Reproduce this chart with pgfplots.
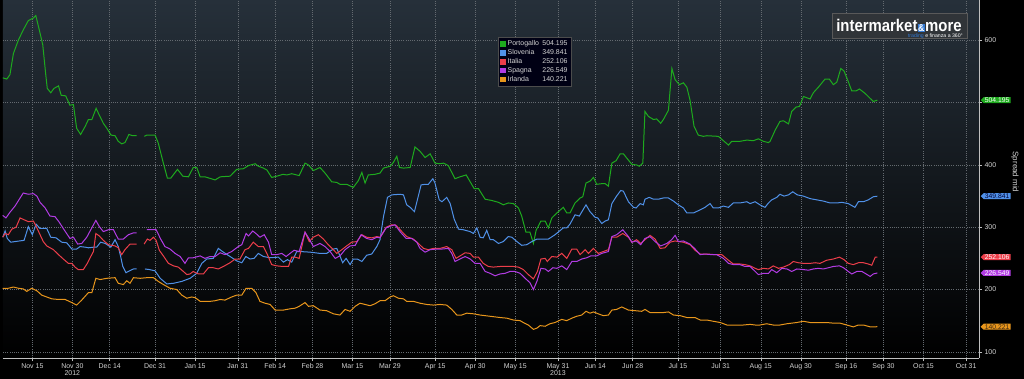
\documentclass[border=0pt]{standalone}
\usepackage{fontspec}
\setmainfont{Liberation Sans}
\usepackage{pgfplots}
\pgfplotsset{compat=1.18}
\usetikzlibrary{shapes.symbols}
\definecolor{pgreen}{RGB}{30,170,30}
\definecolor{pblue}{RGB}{80,145,232}
\definecolor{pred}{RGB}{236,62,74}
\definecolor{ppurple}{RGB}{178,60,228}
\definecolor{porange}{RGB}{232,150,28}
\definecolor{bgtop}{RGB}{38,48,58}
\definecolor{gridc}{RGB}{100,106,112}
\definecolor{txt}{RGB}{210,210,210}
\definecolor{logobg}{RGB}{48,52,56}
\definecolor{logoblue}{RGB}{50,120,210}
\tikzset{tagstyle/.style={shape=signal, signal to=west, signal from=nowhere, anchor=west,
   font=\fontsize{6.8}{7}\selectfont, inner xsep=1.2bp, inner ysep=0.6bp, xshift=1bp}}
\begin{document}
\begin{tikzpicture}
\useasboundingbox[fill=black] (0,0) rectangle (1024bp,379bp);
\begin{axis}[
  at={(3bp,21bp)}, anchor=south west,
  scale only axis, width=976bp, height=358bp,
  xmin=3, xmax=368.8, ymin=90, ymax=665,
  clip=false,
  unbounded coords=jump,
  axis background/.style={top color=bgtop, bottom color=black},
  axis x line=bottom, axis y line=right,
  axis line style={-, draw=white!75!black, line width=0.6bp},
  tick align=outside,
  major tick length=3bp, minor tick length=2bp,
  tick style={white!75!black, line width=0.5bp},
  xtick={14,29,43,60,75,91,105,119,134,148,165,180,195,211,225,239,256,272,287,302,319,333,348,364},
  xticklabels={Nov 15,Nov 30\\2012,Dec 14,Dec 31,Jan 15,Jan 31,Feb 14,Feb 28,Mar 15,Mar 29,Apr 15,Apr 30,May 15,May 31\\2013,Jun 14,Jun 28,Jul 15,Jul 31,Aug 15,Aug 30,Sep 16,Sep 30,Oct 15,Oct 31},
  minor x tick num=1,
  ytick={100,200,300,400,500,600},
  yticklabels={100,200,300,400,,600},
  /pgf/number format/assume math mode=true,
  ticklabel style={font=\fontsize{7}{7.5}\selectfont, text=txt},
  xticklabel style={align=center, anchor=north, yshift=1bp},
  yticklabel style={anchor=west, xshift=-1bp},
  grid=major,
  major grid style={dash pattern=on 0.6bp off 1.6bp, gridc, line width=0.5bp},
  legend style={at={(0.507,0.8966)}, anchor=north west, fill=black!92!blue, draw=white!30!black,
    font=\fontsize{7}{8}\selectfont, text=txt, inner xsep=2bp, inner ysep=1.5bp, row sep=-1.6bp},
  legend cell align=left,
  legend image code/.code={\path[#1, fill, draw=none] (0bp,-2.8bp) rectangle (5.6bp,2.8bp);},
  every axis plot/.append style={line width=1bp, mark=none},
]
\addplot[color=pgreen] coordinates {(2.9,540) (4.4,538) (5.6,545) (6.9,579) (8.8,601) (10.6,617) (12.5,632) (14.4,636) (15.3,640) (16.6,617) (17.9,593) (19.1,542) (19.6,523) (20.9,516) (22.1,523) (23.8,527) (24.8,512) (26.5,511) (28.1,496) (29.4,497) (30.6,459) (32.1,449) (33.8,462) (35.0,473) (36.3,473) (37.9,491) (39.1,480) (40.6,467) (41.9,459) (43.5,448) (45.0,447) (46.2,438) (47.5,434) (48.7,436) (50.2,449) (51.6,447) (53.1,447) (54.5,nan) (56.0,446) (56.9,448) (60.0,448) (61.2,435) (63.1,403) (64.6,379) (65.9,379) (68.4,393) (70.4,382) (72.5,381) (74.3,396) (75.6,396) (76.9,381) (78.7,381) (82.5,376) (84.4,381) (88.1,382) (90.6,393) (93.1,394) (95.0,399) (97.5,402) (98.7,398) (100.6,395) (101.9,392) (103.7,380) (105.6,382) (107.9,385) (109.4,384) (111.2,386) (114.0,383) (116.2,403) (117.5,400) (119.3,391) (121.8,396) (123.7,387) (126.2,373) (128.1,372) (129.3,369) (131.8,369) (134.3,364) (136.2,375) (137.5,388) (138.7,371) (139.9,384) (142.4,385) (144.3,387) (145.6,395) (148.1,398) (149.3,404) (150.6,414) (151.6,396) (153.1,395) (155.6,396) (157.4,429) (159.3,422) (161.2,412) (163.1,418) (164.9,403) (166.8,402) (168.1,403) (169.9,399) (172.4,378) (174.3,381) (176.6,384) (178.1,373) (179.6,362) (181.2,362) (183.7,345) (186.2,343) (188.7,340) (190.5,336) (192.4,339) (194.3,338) (196.2,331) (197.4,318) (199.0,292) (200.5,292) (201.8,274) (202.8,295) (204.6,310) (206.2,310) (207.4,299) (208.7,315) (210.6,323) (213.0,332) (214.3,323) (215.5,323) (217.4,339) (219.3,347) (220.3,349) (221.5,371) (223.0,374) (224.3,380) (225.5,369) (227.4,370) (228.7,370) (229.9,366) (231.2,403) (232.8,407) (234.3,418) (235.5,418) (236.8,411) (238.7,401) (240.5,400) (241.5,398) (242.8,403) (243.6,486) (244.9,478) (246.8,473) (248.0,474) (249.5,467) (250.5,473) (252.4,488) (253.7,555) (254.9,537) (256.5,529) (258.0,532) (259.3,525) (260.5,504) (262.0,462) (263.6,448) (265.5,446) (266.8,447) (271.1,446) (274.9,432) (276.1,438) (279.2,438) (281.8,440) (284.2,439) (286.1,442) (288.0,438) (289.9,436) (290.5,438) (292.4,456) (294.2,470) (295.5,471) (297.4,466) (298.6,486) (300.2,493) (301.5,494) (303.0,510) (305.5,506) (306.7,516) (308.6,525) (311.1,538) (312.7,538) (314.2,529) (315.5,533) (317.0,555) (318.2,551) (319.8,534) (321.1,519) (322.7,519) (324.0,522) (326.1,515) (328.0,507) (329.2,502) (330.7,504.195)};
\addlegendentry{\makebox[33bp][l]{Portogallo}\makebox[27bp][r]{504.195}}
\addplot[color=pblue] coordinates {(2.9,284) (3.8,294) (4.6,282) (5.9,276) (7.5,277) (10.9,279) (12.5,301) (14.0,288) (15.4,305) (16.9,298) (19.4,298) (20.9,284) (22.9,283) (25.0,276) (26.9,275) (28.8,265) (30.6,265) (31.9,269) (33.8,268) (35.0,267) (36.9,268) (38.1,268) (39.6,276) (41.3,274) (43.4,268) (45.0,280) (46.2,269) (47.1,253) (47.9,237) (49.1,227) (50.4,230) (51.9,233) (53.1,233) (54.6,nan) (56.2,233) (57.9,232) (60.0,230) (61.9,218) (64.4,209) (66.9,210) (70.0,213) (73.1,218) (75.6,226) (77.5,242) (79.4,249) (81.8,250) (83.7,266) (85.6,260) (88.1,253) (90.6,246) (92.5,243) (94.0,253) (95.6,249) (97.1,250) (98.7,258) (100.6,253) (103.1,251) (106.2,252) (108.1,244) (109.6,248) (111.2,244) (113.1,261) (114.3,261) (118.1,260) (121.8,258) (124.3,258) (126.8,265) (128.1,266) (129.1,256) (130.3,243) (131.6,250) (133.1,240) (134.3,249) (135.8,249) (137.5,245) (139.3,255) (141.2,257) (143.1,269) (144.3,280) (145.6,317) (147.1,348) (148.7,352) (151.8,353) (153.1,352) (154.3,336) (155.6,332) (157.2,325) (158.3,344) (159.7,368) (161.2,369) (162.4,369) (164.1,378) (164.9,371) (166.5,344) (167.5,341) (168.3,344) (169.3,348) (170.6,338) (172.1,313) (173.7,297) (175.5,296) (178.1,293) (179.3,290) (180.6,299) (181.8,284) (183.0,283) (184.3,295) (185.6,280) (186.8,280) (188.7,274) (190.5,277) (192.4,285) (193.7,284) (195.6,277) (197.4,271) (199.3,272) (201.2,277) (203.1,281) (204.9,281) (207.4,281) (209.9,288) (213.0,299) (214.3,299) (215.5,305) (217.4,320) (219.0,318) (221.5,336) (223.0,325) (224.9,316) (225.9,315) (227.4,306) (228.7,310) (229.9,312) (231.2,338) (232.8,349) (234.5,359) (235.5,358) (237.4,341) (239.3,332) (240.3,331) (241.8,338) (243.0,336) (243.6,345) (245.2,348) (246.8,345) (248.6,345) (250.5,347) (252.4,347) (254.3,342) (256.1,336) (258.0,331) (259.3,323) (261.8,323) (264.3,328) (266.1,332) (268.0,338) (269.2,331) (271.1,331) (273.0,334) (274.9,332) (276.7,339) (279.2,339) (281.8,341) (283.0,338) (284.9,341) (286.7,336) (288.6,332) (289.9,339) (291.1,344) (293.0,348) (294.2,353) (295.7,350) (297.4,352) (299.0,357) (300.7,352) (303.0,350) (305.5,346) (308.0,344) (310.5,342) (313.0,339) (315.5,339) (317.4,340) (319.8,338) (322.3,332) (323.6,341) (325.5,341) (327.3,344) (329.2,349) (330.7,349.841)};
\addlegendentry{\makebox[33bp][l]{Slovenia}\makebox[27bp][r]{349.841}}
\addplot[color=pred] coordinates {(2.9,284) (3.8,290) (5.0,288) (6.3,297) (7.9,300) (9.4,315) (10.9,312) (12.5,309) (14.4,310) (15.7,299) (16.9,288) (18.1,277) (19.4,270) (21.9,264) (23.8,256) (25.6,249) (27.5,242) (28.8,242) (30.0,236) (31.2,232) (33.1,232) (34.6,242) (35.9,253) (36.9,261) (37.8,290) (39.1,286) (40.6,279) (42.5,272) (45.0,270) (46.2,267) (47.5,256) (48.7,264) (50.6,273) (53.1,273) (54.5,nan) (55.9,273) (57.1,281) (58.1,279) (59.4,284) (60.4,279) (61.6,263) (63.1,254) (65.0,242) (66.9,238) (68.7,236) (70.6,229) (71.9,224) (73.1,225) (74.3,229) (76.2,225) (78.1,225) (80.0,235) (81.8,235) (83.7,233) (85.6,237) (88.1,243) (90.0,249) (91.8,249) (93.7,264) (95.0,266) (96.8,276) (98.7,269) (100.6,269) (101.9,258) (103.7,240) (105.6,238) (107.9,237) (110.0,237) (111.2,252) (112.5,252) (114.0,250) (116.2,292) (117.8,277) (119.3,284) (121.2,288) (123.1,281) (124.9,272) (126.8,264) (128.1,258) (130.0,264) (131.8,270) (133.7,276) (135.6,277) (137.5,288) (139.3,284) (141.2,283) (143.1,285) (144.3,284) (146.6,300) (148.7,304) (150.3,303) (152.5,293) (154.3,285) (156.8,281) (158.7,274) (160.6,266) (162.4,264) (164.3,266) (166.8,266) (169.3,269) (171.2,264) (172.8,250) (174.3,254) (176.2,259) (178.1,258) (179.3,252) (181.2,252) (183.0,242) (184.9,237) (186.8,236) (189.3,237) (191.8,237) (194.3,237) (196.2,236) (198.0,232) (199.9,224) (201.8,217) (203.3,229) (204.6,249) (206.2,250) (207.0,245) (208.7,253) (210.6,252) (212.4,258) (214.3,250) (216.2,265) (218.0,265) (219.3,256) (221.2,264) (222.4,258) (224.3,266) (226.1,258) (228.0,261) (229.9,264) (231.2,284) (233.0,284) (235.3,290) (237.4,284) (238.7,276) (240.5,280) (242.0,274) (243.6,280) (245.5,287) (247.4,281) (249.3,266) (251.1,267) (253.0,276) (254.9,278) (256.1,277) (258.0,276) (260.5,272) (262.4,263) (264.3,257) (266.8,257) (269.9,256) (272.4,256) (274.9,247) (276.7,241) (279.2,241) (281.1,240) (283.0,238) (284.9,234) (286.1,232) (288.0,234) (289.9,233) (291.7,238) (293.6,234) (295.5,236) (297.7,240) (299.2,245) (301.1,243) (303.0,242) (305.5,242) (307.4,243) (309.2,242) (311.7,247) (314.2,249) (316.5,252) (318.2,248) (319.8,242) (321.7,240) (323.6,243) (325.5,243) (327.3,241) (328.6,239) (329.9,252) (330.7,252.106)};
\addlegendentry{\makebox[33bp][l]{Italia}\makebox[27bp][r]{252.106}}
\addplot[color=ppurple] coordinates {(2.9,319) (4.1,315) (5.6,324) (7.5,334) (9.4,347) (10.6,355) (12.5,353) (14.4,354) (15.7,350) (16.9,340) (18.8,331) (20.6,318) (22.5,317) (24.1,308) (25.9,296) (28.1,282) (29.4,284) (31.0,273) (32.5,274) (34.4,284) (35.9,296) (37.8,311) (39.1,301) (40.6,293) (42.5,296) (44.4,296) (46.2,281) (48.1,281) (50.0,288) (51.9,291) (53.1,291) (55.0,nan) (56.9,296) (60.4,296) (62.1,281) (63.7,269) (65.6,265) (67.5,258) (69.4,253) (71.2,242) (72.5,251) (74.3,251) (76.9,254) (78.7,250) (80.6,253) (82.5,253) (84.4,259) (86.2,256) (88.7,261) (91.2,269) (92.5,272) (94.1,290) (95.0,286) (96.6,294) (97.8,290) (99.3,284) (100.9,288) (102.5,276) (103.7,256) (105.6,256) (107.5,258) (109.1,253) (110.6,258) (112.1,263) (114.0,261) (116.2,292) (117.8,281) (119.3,269) (121.8,274) (123.7,269) (125.6,261) (127.5,250) (129.3,254) (131.2,264) (133.1,270) (135.0,271) (137.2,288) (139.3,282) (141.2,280) (143.1,284) (144.3,283) (146.6,299) (148.3,302) (149.9,304) (151.8,293) (154.1,282) (156.2,282) (158.1,276) (159.3,266) (161.2,260) (163.1,264) (165.6,265) (167.5,265) (169.9,266) (171.2,258) (172.4,245) (174.3,249) (176.2,253) (178.1,249) (179.9,242) (181.8,242) (183.7,229) (185.6,226) (187.4,222) (189.3,225) (191.2,226) (193.0,229) (194.9,229) (196.8,226) (198.7,218) (200.5,211) (201.8,200) (203.1,213) (204.6,234) (206.2,233) (207.4,229) (209.1,235) (210.6,234) (212.4,238) (214.3,232) (216.2,245) (218.0,245) (219.9,249) (221.8,251) (223.3,254) (225.5,254) (227.4,258) (229.9,261) (231.2,285) (233.0,288) (235.3,296) (237.4,285) (238.7,276) (240.3,278) (242.0,272) (243.6,282) (245.5,285) (247.4,277) (249.5,270) (251.8,274) (253.6,280) (254.9,287) (256.1,277) (258.0,278) (260.5,273) (262.4,265) (264.3,256) (266.1,257) (268.6,256) (270.5,256) (273.0,250) (274.9,242) (276.7,240) (279.2,240) (281.1,237) (283.0,237) (284.2,232) (286.1,224) (288.0,226) (289.9,226) (291.1,232) (293.0,227) (294.9,234) (296.8,233) (298.6,229) (300.5,233) (303.0,232) (304.9,231) (306.7,233) (308.6,234) (310.5,233) (312.4,235) (314.2,237) (316.5,238) (318.0,235) (319.8,229) (321.1,225) (323.0,229) (324.9,229) (326.5,225) (328.0,221) (329.2,225) (330.7,226.549)};
\addlegendentry{\makebox[33bp][l]{Spagna}\makebox[27bp][r]{226.549}}
\addplot[color=porange] coordinates {(2.9,202) (5.0,202) (6.9,204) (8.8,202) (10.6,201) (11.9,197) (13.8,202) (15.7,198) (17.5,191) (19.4,188) (21.3,185) (23.8,184) (26.3,184) (28.8,179) (30.6,175) (32.5,183) (35.0,195) (36.3,195) (37.8,218) (39.4,216) (41.9,218) (45.0,219) (46.2,210) (48.1,208) (49.4,214) (50.6,210) (51.9,219) (54.4,218) (56.9,219) (59.4,219) (61.2,213) (63.1,208) (65.6,202) (68.1,200) (70.0,191) (71.9,186) (73.7,188) (75.0,187) (76.9,181) (80.6,181) (82.5,182) (84.4,184) (86.2,183) (88.7,188) (90.6,191) (92.5,191) (94.1,202) (96.2,202) (97.8,195) (99.3,181) (101.2,178) (103.1,176) (105.0,167) (108.1,167) (110.6,169) (112.5,170) (114.0,173) (116.2,179) (117.5,173) (119.3,174) (121.8,167) (124.3,166) (126.8,161) (129.3,159) (131.2,168) (133.1,165) (135.0,173) (136.8,178) (138.7,176) (140.6,174) (142.4,177) (144.3,182) (146.2,182) (148.1,188) (149.3,190) (151.2,186) (153.1,185) (154.3,181) (156.8,181) (159.3,178) (161.8,176) (164.3,175) (166.8,176) (169.3,175) (171.2,168) (173.1,159) (174.9,159) (176.8,162) (179.3,161) (181.8,159) (185.6,157) (189.3,155) (191.8,154) (194.3,151) (196.8,150) (198.0,147) (199.9,143) (201.8,136) (203.1,138) (204.3,142) (206.2,141) (208.0,145) (209.9,147) (212.4,152) (214.3,150) (216.2,154) (218.0,157) (219.9,159) (221.5,165) (223.0,162) (224.3,164) (226.1,161) (228.0,158) (229.9,159) (231.2,167) (233.0,168) (234.9,172) (237.4,167) (239.9,166) (242.4,165) (243.6,168) (245.5,163) (248.0,163) (250.5,163) (252.4,164) (254.3,159) (256.8,158) (259.3,155) (262.4,155) (264.3,151) (266.8,151) (269.2,149) (271.8,147) (274.3,143) (278.0,143) (280.5,143) (283.0,144) (284.9,143) (286.7,143) (289.2,145) (291.7,143) (294.2,143) (296.8,145) (298.6,146) (300.5,147) (303.0,149) (305.5,147) (308.0,147) (311.7,147) (314.2,146) (316.7,146) (319.2,143) (321.7,140) (323.6,143) (325.5,143) (328.0,140) (330.7,140.221)};
\addlegendentry{\makebox[33bp][l]{Irlanda}\makebox[27bp][r]{140.221}}
% value tags on the right axis
\addplot[draw=none, forget plot, point meta=explicit symbolic, nodes near coords,
  every node near coord/.style={tagstyle, fill=pgreen, text=white}] coordinates {(368.8,504.195) [504.195]};
\addplot[draw=none, forget plot, point meta=explicit symbolic, nodes near coords,
  every node near coord/.style={tagstyle, fill=pblue, text=black!80!blue}] coordinates {(368.8,349.841) [349.841]};
\addplot[draw=none, forget plot, point meta=explicit symbolic, nodes near coords,
  every node near coord/.style={tagstyle, fill=pred, text=white}] coordinates {(368.8,252.106) [252.106]};
\addplot[draw=none, forget plot, point meta=explicit symbolic, nodes near coords,
  every node near coord/.style={tagstyle, fill=ppurple, text=white}] coordinates {(368.8,226.549) [226.549]};
\addplot[draw=none, forget plot, point meta=explicit symbolic, nodes near coords,
  every node near coord/.style={tagstyle, fill=porange, text=black!70!brown}] coordinates {(368.8,140.221) [140.221]};
\end{axis}
% y axis title
\node[rotate=-90, text=txt, font=\fontsize{8}{9}\selectfont] at (1015bp,207bp) {Spread mid};
% logo
\node[fill=logobg, draw=white!35!black, minimum width=135bp, minimum height=25bp, inner sep=0pt] at (899.5bp,353.5bp) {};
\node[text=white, font=\fontsize{17}{17}\selectfont\bfseries, inner sep=0pt, anchor=base] at (899bp,347bp)
  {\scalebox{0.88}[1]{intermarket\raisebox{0.5bp}{\setlength\fboxsep{0.8pt}\colorbox{logoblue}{\fontsize{10}{10}\selectfont\&}}more}};
\node[font=\fontsize{5.2}{5.2}\selectfont, inner sep=0pt, anchor=base east, text=white] at (963bp,341.3bp)
  {\textcolor{logoblue}{trading} e finanza a 360°};
\end{tikzpicture}
\end{document}
